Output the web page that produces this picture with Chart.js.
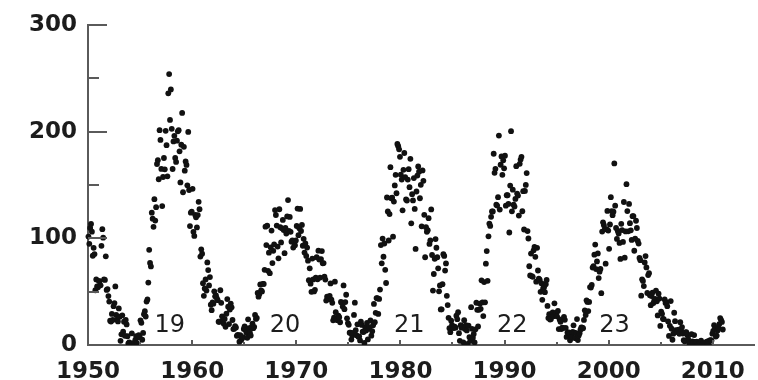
<!DOCTYPE html>
<html><head><meta charset="utf-8">
<script src="https://cdn.jsdelivr.net/npm/chart.js@4/dist/chart.umd.min.js"></script>
<style>html,body{margin:0;padding:0;background:#fff;overflow:hidden}#wrap{width:758px;height:380px;position:relative}</style>
</head><body><div id="wrap"><canvas id="c" width="758" height="380"></canvas></div>
<script>
// Monthly sunspot number, January 1950 .. December 2010 (one row per year)
const startYear = 1950;
const monthlySunspots = [
 101.6, 94.8,109.7,113.4,106.2, 83.6, 91.0, 85.2, 51.3, 61.4, 54.8, 54.1, // 1950
  59.9, 59.9, 55.9, 92.9,108.5,100.6, 61.5, 61.0, 83.1, 51.6, 52.4, 45.8, // 1951
  40.7, 22.7, 22.0, 29.1, 23.4, 36.4, 39.3, 54.9, 28.2, 23.8, 22.1, 34.3, // 1952
  26.5,  3.9, 10.0, 27.8, 12.5, 21.8,  8.6, 23.5, 19.3,  8.2,  1.6,  2.5, // 1953
   0.2,  0.5, 10.9,  1.8,  0.8,  0.2,  4.8,  8.4,  1.5,  7.0,  9.2,  7.6, // 1954
  23.1, 20.8,  4.9, 11.3, 28.9, 31.7, 26.7, 40.7, 42.7, 58.5, 89.2, 76.9, // 1955
  73.6,124.0,118.4,110.7,136.6,116.6,129.1,169.6,173.2,155.3,201.3,192.1, // 1956
 165.0,130.2,157.4,175.2,164.6,200.7,187.2,158.0,235.8,253.8,210.9,239.4, // 1957
 202.5,164.9,190.7,196.0,175.3,171.5,191.4,200.2,201.2,181.5,152.3,187.6, // 1958
 217.4,143.1,185.7,163.3,172.0,168.7,149.6,199.6,145.2,111.4,124.0,125.0, // 1959
 146.3,106.0,102.2,122.0,119.6,110.2,121.7,134.1,127.2, 82.8, 89.6, 85.6, // 1960
  57.9, 46.1, 53.0, 61.4, 51.0, 77.4, 70.2, 55.8, 63.6, 37.7, 32.6, 39.9, // 1961
  38.7, 50.3, 45.6, 46.4, 43.7, 42.0, 21.8, 21.8, 51.3, 39.5, 26.9, 23.2, // 1962
  19.8, 24.4, 17.1, 29.3, 43.0, 35.9, 19.6, 33.2, 38.8, 35.3, 23.4, 14.9, // 1963
  15.3, 17.7, 16.5,  8.6,  9.5,  9.1,  3.1,  9.3,  4.7,  6.1,  7.4, 15.1, // 1964
  17.5, 14.2, 11.7,  6.8, 24.1, 15.9, 11.9,  8.9, 16.8, 20.1, 15.8, 17.0, // 1965
  28.2, 24.4, 25.3, 48.7, 45.3, 47.7, 56.7, 51.2, 50.2, 57.2, 57.2, 70.4, // 1966
 110.9, 93.6,111.8, 69.5, 86.5, 67.3, 91.5,107.2, 76.8, 88.2, 94.3,126.4, // 1967
 121.8,111.9, 92.2, 81.2,127.2,110.3, 96.1,109.3,117.2,107.7, 86.0,109.8, // 1968
 104.4,120.5,135.8,106.8,120.0,106.0, 96.8, 98.0, 91.3, 95.7, 93.5, 97.9, // 1969
 111.5,127.8,102.9,109.5,127.5,106.8,112.5, 93.0, 99.5, 86.6, 95.2, 83.5, // 1970
  91.3, 79.0, 60.7, 71.8, 57.5, 49.8, 81.0, 61.4, 50.2, 51.7, 63.2, 82.2, // 1971
  61.5, 88.4, 80.1, 63.2, 80.5, 88.0, 76.5, 76.8, 64.0, 61.3, 41.6, 45.3, // 1972
  43.4, 42.9, 46.0, 57.7, 42.4, 39.5, 23.1, 25.6, 59.3, 30.7, 23.9, 23.3, // 1973
  27.6, 26.0, 21.3, 40.3, 39.5, 36.0, 55.8, 33.6, 40.2, 47.1, 25.0, 20.5, // 1974
  18.9, 11.5, 11.5,  5.1,  9.0, 11.4, 28.2, 39.7, 13.9,  9.1, 19.4,  7.8, // 1975
   8.1,  4.3, 21.9, 18.8, 12.4, 12.2,  1.9, 16.4, 13.5, 20.6,  5.2, 15.3, // 1976
  16.4, 23.1,  8.7, 12.9, 18.6, 38.5, 21.4, 30.1, 44.0, 43.8, 29.1, 43.2, // 1977
  51.9, 93.6, 76.5, 99.7, 82.7, 95.1, 70.4, 58.1,138.2,125.1, 97.9,122.7, // 1978
 166.6,137.5,138.0,101.5,134.4,149.5,159.4,142.2,188.4,186.2,183.3,176.3, // 1979
 159.6,155.0,126.2,164.1,179.9,157.3,136.3,135.4,155.0,164.7,147.9,174.4, // 1980
 114.0,141.3,135.5,156.4,127.5, 90.0,143.8,158.7,167.3,162.4,137.5,150.1, // 1981
 111.2,163.6,153.8,122.0, 82.2,110.4,106.1,107.6,118.8, 94.7, 98.1,127.0, // 1982
  84.3, 51.0, 66.5, 80.7, 99.2, 91.1, 82.2, 71.8, 50.3, 55.8, 33.3, 33.4, // 1983
  57.0, 85.1, 83.5, 69.7, 76.4, 46.1, 37.4, 25.5, 15.7, 12.0, 22.8, 18.7, // 1984
  16.5, 15.9, 17.2, 16.2, 27.5, 24.2, 30.7, 11.1,  3.9, 18.6, 16.2, 17.3, // 1985
   2.5, 23.2, 15.1, 18.5, 13.7,  1.1, 18.1,  7.4,  3.8, 35.4, 15.2,  6.8, // 1986
  10.4,  2.4, 14.7, 39.6, 33.0, 17.4, 33.0, 38.7, 33.9, 60.6, 39.9, 27.1, // 1987
  59.0, 40.0, 76.2, 88.0, 60.1,101.8,113.8,111.6,120.1,125.1,125.1,179.2, // 1988
 161.3,165.1,131.4,130.6,138.5,196.2,126.9,168.9,176.7,159.4,173.0,165.5, // 1989
 177.3,130.5,140.3,140.3,132.2,105.4,149.4,200.3,125.2,145.5,131.4,129.7, // 1990
 136.9,167.5,141.9,140.0,121.3,169.7,173.7,176.3,125.3,144.1,108.2,144.4, // 1991
 150.0,161.1,106.7, 99.8, 73.8, 65.2, 85.7, 64.5, 63.9, 88.7, 91.8, 82.6, // 1992
  59.3, 91.0, 69.8, 62.2, 61.3, 49.8, 57.9, 42.3, 53.2, 54.0, 49.5, 57.0, // 1993
  60.9, 36.6, 25.2, 28.8, 23.9, 24.4, 29.3, 30.5, 27.0, 39.0, 29.2, 30.1, // 1994
  26.9, 31.9, 14.9, 23.9, 21.7, 15.0, 16.3, 16.1, 26.4, 23.6, 16.0,  7.6, // 1995
  11.6, 11.8, 11.6,  4.4,  7.3,  7.7, 12.3, 18.4, 11.5,  6.4, 11.1, 24.3, // 1996
   4.6,  8.9, 11.0, 14.4, 16.6, 16.2, 15.7, 23.5, 32.5, 28.1, 41.9, 40.4, // 1997
  31.8, 40.4, 54.3, 53.8, 56.3, 72.5, 73.9, 84.6, 94.1, 71.1, 78.3, 85.8, // 1998
  62.7, 68.7, 71.2, 48.6,106.3,114.9,112.3,108.4, 76.2,108.6,125.6,107.2, // 1999
  90.1,112.9,138.5,125.5,121.6,124.9,170.1,130.5,109.7, 99.4,106.8,104.4, // 2000
  95.6, 80.6,113.5,107.7, 96.6,134.0, 81.8,106.4,150.7,125.5,106.5,132.2, // 2001
 114.1,107.4, 98.4,120.7,120.8, 88.3, 99.6,116.4,109.6, 97.5, 95.0, 81.6, // 2002
  79.5, 46.2, 61.5, 60.0, 55.2, 77.4, 83.3, 72.7, 48.7, 65.5, 67.3, 46.5, // 2003
  37.3, 45.8, 49.1, 39.3, 41.5, 43.2, 51.0, 40.9, 27.7, 48.0, 43.5, 17.9, // 2004
  31.3, 29.2, 24.5, 24.2, 42.7, 39.3, 40.1, 36.4, 22.1,  8.5, 18.0, 41.2, // 2005
  15.3,  4.9, 10.6, 30.2, 22.3, 13.9, 12.2, 12.9, 14.4, 10.5, 21.4, 13.6, // 2006
  16.8, 10.7,  4.5,  3.4, 11.7, 12.1,  9.7,  6.0,  2.4,  0.9,  1.7, 10.1, // 2007
   3.3,  2.1,  9.3,  2.9,  2.9,  3.1,  0.5,  0.5,  1.1,  2.9,  4.1,  0.8, // 2008
   1.5,  1.4,  0.7,  1.2,  2.9,  2.6,  3.5,  0.0,  4.2,  4.6,  4.2, 10.6, // 2009
  13.1, 18.6, 15.4,  7.9,  8.8, 13.5, 16.1, 19.6, 25.2, 23.5, 21.6, 14.5  // 2010
];

const xTickLabels = [1950, 1960, 1970, 1980, 1990, 2000, 2010];
const xMinorTicks = [1955, 1965, 1975, 1985, 1995, 2005];
const yTickLabels = [0, 100, 200, 300];
const yMinorTicks = [50, 150, 250];
const cycleNames = ['19', '20', '21', '22', '23'];
const cycleLabelYears = [1957.86, 1968.92, 1980.84, 1990.75, 2000.57];
const cycleLabelValues = [17.6, 17.6, 17.6, 17.6, 17.6];

// monthly observations placed at mid-month
const points = monthlySunspots.map((v, i) => ({ x: startYear + Math.floor(i / 12) + ((i % 12) + 0.5) / 12, y: v }));

const AXIS_COLOR = '#5a5a5a';
const TEXT_COLOR = '#1c1c1c';

const decorations = {
  id: 'decorations',
  afterDatasetsDraw(chart) {
    const { ctx, scales: { x, y } } = chart;
    const x0 = x.left, y0 = y.bottom;
    ctx.save();
    ctx.strokeStyle = AXIS_COLOR;
    ctx.lineWidth = 2;
    ctx.beginPath();
    yTickLabels.forEach(v => { if (v === 0) return; const py = Math.round(y.getPixelForValue(v)); ctx.moveTo(x0, py); ctx.lineTo(x0 + 19, py); });
    yMinorTicks.forEach(v => { const py = Math.round(y.getPixelForValue(v)); ctx.moveTo(x0, py); ctx.lineTo(x0 + 11, py); });
    xTickLabels.forEach(v => { if (v === 1950) return; const px = Math.round(x.getPixelForValue(v)); ctx.moveTo(px, y0); ctx.lineTo(px, y0 - 5); });
    xMinorTicks.forEach(v => { const px = Math.round(x.getPixelForValue(v)); ctx.moveTo(px, y0); ctx.lineTo(px, y0 - 3); });
    ctx.stroke();
    ctx.fillStyle = TEXT_COLOR;
    ctx.font = '24px "DejaVu Sans"';
    ctx.textAlign = 'center';
    ctx.textBaseline = 'middle';
    cycleNames.forEach((t, i) => {
      ctx.fillText(t, x.getPixelForValue(cycleLabelYears[i]), y.getPixelForValue(cycleLabelValues[i]));
    });
    ctx.restore();
  }
};

new Chart(document.getElementById('c'), {
  type: 'scatter',
  data: {
    datasets: [{
      data: points,
      pointRadius: 2.9,
      pointHoverRadius: 2.9,
      pointBackgroundColor: '#111',
      pointBorderWidth: 0,
      showLine: false,
      clip: { left: 6, top: 6, right: 6, bottom: 0 }
    }]
  },
  options: {
    responsive: false,
    animation: false,
    devicePixelRatio: 1,
    layout: { padding: { top: 21, right: 0, left: 0, bottom: 0 } },
    plugins: { legend: { display: false }, tooltip: { enabled: false } },
    scales: {
      x: {
        type: 'linear', min: 1950, max: 2014,
        afterBuildTicks: s => { s.ticks = xTickLabels.map(v => ({ value: v })); },
        afterFit: s => { s.height = 35; },
        grid: { drawOnChartArea: false, drawTicks: false },
        border: { color: AXIS_COLOR, width: 2 },
        ticks: { padding: 13, maxRotation: 0, autoSkip: false, color: TEXT_COLOR,
          font: { family: 'DejaVu Sans', size: 23, weight: 'bold' }, callback: v => String(v) }
      },
      y: {
        min: 0, max: 300,
        afterBuildTicks: s => { s.ticks = yTickLabels.map(v => ({ value: v })); },
        afterFit: s => { s.width = 88; },
        grid: { drawOnChartArea: false, drawTicks: false },
        border: { color: AXIS_COLOR, width: 2 },
        ticks: { padding: 11, color: TEXT_COLOR,
          font: { family: 'DejaVu Sans', size: 23, weight: 'bold' }, callback: v => String(v) }
      }
    }
  },
  plugins: [decorations]
});
</script>
</body></html>
